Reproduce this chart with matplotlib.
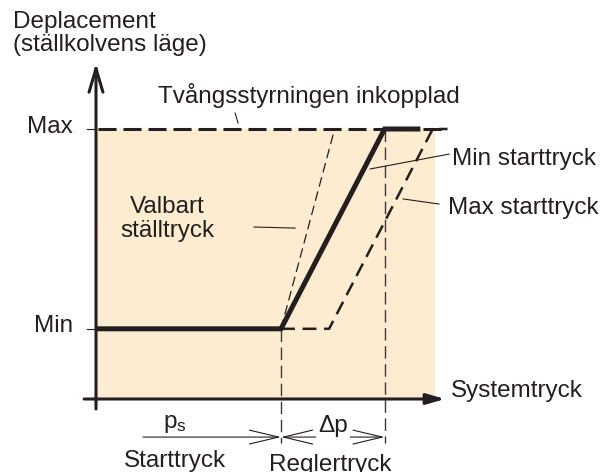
import matplotlib

matplotlib.use("Agg")
import matplotlib.pyplot as plt

# pressure (arbitrary units) and displacement (% of max)
disp_min = 26.0
disp_max = 100.0
p_start = 5.0          # starttryck (min)
p_regler = 7.8         # where min-curve reaches max
p_valbart_top = 6.45
p_end = 9.5

min_curve_p = [0.05, p_start, p_regler, 8.7]
min_curve_d = [disp_min, disp_min, disp_max, disp_max]
max_curve_p = [p_start, 6.3, 9.1, p_end]
max_curve_d = [disp_min, disp_min, disp_max, disp_max]
valbart_p = [p_start, p_valbart_top]
valbart_d = [disp_min, disp_max]
forced_p = [0.05, p_end]
forced_d = [disp_max, disp_max]
shade_p = [0.0, 9.15]

INK = "#231F20"
SHADE = "#FDECCF"
FS = 17.5

plt.rcParams["font.family"] = ["Liberation Sans", "DejaVu Sans"]
plt.rcParams["mathtext.fontset"] = "custom"
plt.rcParams["mathtext.rm"] = "Liberation Sans"
plt.rcParams["mathtext.it"] = "Liberation Sans"
plt.rcParams["lines.scale_dashes"] = False

fig = plt.figure(figsize=(6.08, 4.72), dpi=100)
ax = fig.add_axes([0, 0, 1, 1])
# 37 px per pressure unit, 2.7 px per displacement unit, origin at (96, 399) px
ax.set_xlim(-96 / 37, (608 - 96) / 37)
ax.set_ylim(-(472 - 399) / 2.7, 399 / 2.7)
ax.axis("off")

# shaded operating area
ax.fill_between(shade_p, [0, 0], [disp_max, disp_max], color=SHADE, lw=0, zorder=0)

# dashed helper lines
ax.plot(forced_p, forced_d, color=INK, lw=2.2, ls=(0, (13, 5)), zorder=2)
ax.plot(max_curve_p, max_curve_d, color=INK, lw=1.8, ls=(0, (10, 5.5)), zorder=2)
ax.plot(valbart_p, valbart_d, color=INK, lw=0.9, ls=(0, (7, 3.6)), zorder=2)
ax.plot([p_start, p_start], [disp_min, -16.3], color="#3a3a3a", lw=1.0, ls=(0, (9, 4)), zorder=2)
ax.plot([p_regler, p_regler], [disp_max, -16.3], color="#3a3a3a", lw=1.0, ls=(0, (9, 4)), zorder=2)

# main characteristic
ax.plot(min_curve_p, min_curve_d, color=INK, lw=3.6, solid_joinstyle="miter", zorder=3)

# axes with arrows
ax.annotate("", xy=(0, 124.4), xytext=(0, -3.7),
            arrowprops=dict(arrowstyle="->,head_length=17,head_width=5", lw=2.2,
                            color=INK, shrinkA=0, shrinkB=0, mutation_scale=1), zorder=4)
ax.annotate("", xy=(9.43, 0), xytext=(-0.32, 0),
            arrowprops=dict(arrowstyle="-|>,head_length=11,head_width=3.2", lw=2.2,
                            color=INK, shrinkA=0, shrinkB=0, mutation_scale=1), zorder=4)
for d in (disp_min, disp_max):
    ax.plot([-0.24, 0], [d, d], color=INK, lw=0.8, zorder=4)

# dimension arrows
ax.annotate("", xy=(p_start, -14.1), xytext=(1.27, -14.1),
            arrowprops=dict(arrowstyle="->,head_length=21,head_width=5", lw=0.8,
                            color=INK, shrinkA=0, shrinkB=0, mutation_scale=1), zorder=4)
ax.annotate("", xy=(p_regler, -14.1), xytext=(p_start, -14.1),
            arrowprops=dict(arrowstyle="<->,head_length=21,head_width=5", lw=0.8,
                            color=INK, shrinkA=0, shrinkB=0, mutation_scale=1), zorder=4)

# leader lines
leaders = [
    ([3.76, 3.84], [105.9, 102.2]),
    ([4.27, 5.38], [63.7, 63.3]),
    ([7.41, 9.54], [85.2, 90.7]),
    ([8.3, 9.27], [74.1, 72.2]),
]
for lp, ld in leaders:
    ax.plot(lp, ld, color=INK, lw=0.8, zorder=4)

# texts
txt = dict(color=INK, fontsize=FS, va="baseline")
ax.text(-2.24, 137.4, "Deplacement", ha="left", **txt)
ax.text(-2.24, 129.0, "(ställkolvens läge)", ha="left", **txt)
ax.text(1.68, 109.6, "Tvångsstyrningen inkopplad", ha="left", **txt)
ax.text(-0.62, 98.5, "Max", ha="right", **txt)
ax.text(-0.62, 24.8, "Min", ha="right", **txt)
ax.text(1.92, 68.9, "Valbart", ha="center", **txt)
ax.text(1.92, 60.0, "ställtryck", ha="center", **txt)
ax.text(9.62, 86.7, "Min starttryck", ha="left", **txt)
ax.text(9.51, 68.5, "Max starttryck", ha="left", **txt)
ax.text(9.6, 0.74, "Systemtryck", ha="left", **txt)
ax.text(2.14, -10.7, r"p$_\mathrm{s}$", ha="center", **txt)
ax.text(6.4, -12.4, "Δp", ha="center", zorder=5,
        bbox=dict(facecolor="white", edgecolor="none", pad=1.5), **txt)
ax.text(2.14, -25.2, "Starttryck", ha="center", **txt)
ax.text(6.32, -26.7, "Reglertryck", ha="center", **txt)

fig.savefig("out.png", dpi=100)
